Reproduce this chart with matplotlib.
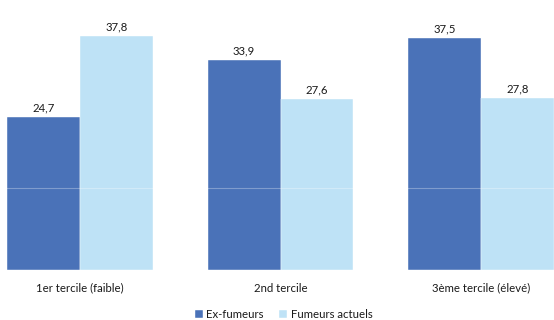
import numpy as np
import matplotlib.pyplot as plt

plt.rcParams['font.family'] = ['Lato', 'DejaVu Sans']

categories = ['1er tercile (faible)', '2nd tercile', '3ème tercile (élevé)']
ex_fumeurs = [24.7, 33.9, 37.5]
fumeurs_actuels = [37.8, 27.6, 27.8]
series_names = ['Ex-fumeurs', 'Fumeurs actuels']

dark = '#4A72B8'
light = '#BEE2F6'
width = 0.364
fs = 8.2

fig = plt.figure(figsize=(5.54, 3.2), dpi=100)
ax = fig.add_axes([0, 0.15625, 1, 0.7725])

x = np.arange(len(categories))
b1 = ax.bar(x - width / 2, ex_fumeurs, width, color=dark, label=series_names[0],
            edgecolor='white', linewidth=0.3)
b2 = ax.bar(x + width / 2, fumeurs_actuels, width, color=light, label=series_names[1],
            edgecolor='white', linewidth=0.3)

for bars in (b1, b2):
    for rect in bars:
        h = rect.get_height()
        ax.annotate(f'{h:.1f}'.replace('.', ','),
                    (rect.get_x() + rect.get_width() / 2, h),
                    xytext=(0, 3), textcoords='offset points',
                    ha='center', va='bottom', fontsize=fs, color='#1a1a1a')

# faint gridline showing through the bars
ax.axhline(13.3, color='white', lw=0.8, alpha=0.3, zorder=3)

ax.set_xlim(-0.399, 2.364)
ax.set_ylim(0, 40)
ax.set_xticks(x)
ax.set_xticklabels(categories, fontsize=fs, color='#1a1a1a')
ax.tick_params(axis='x', length=0, pad=9)
ax.set_yticks([])
for s in ax.spines.values():
    s.set_visible(False)

fig.legend(loc='center', bbox_to_anchor=(0.512, 0.016), ncol=2, frameon=False,
           fontsize=fs, handlelength=0.7, handleheight=0.7, handletextpad=0.3,
           columnspacing=1.4, labelcolor='#1a1a1a')

fig.savefig('out.png', dpi=100)
